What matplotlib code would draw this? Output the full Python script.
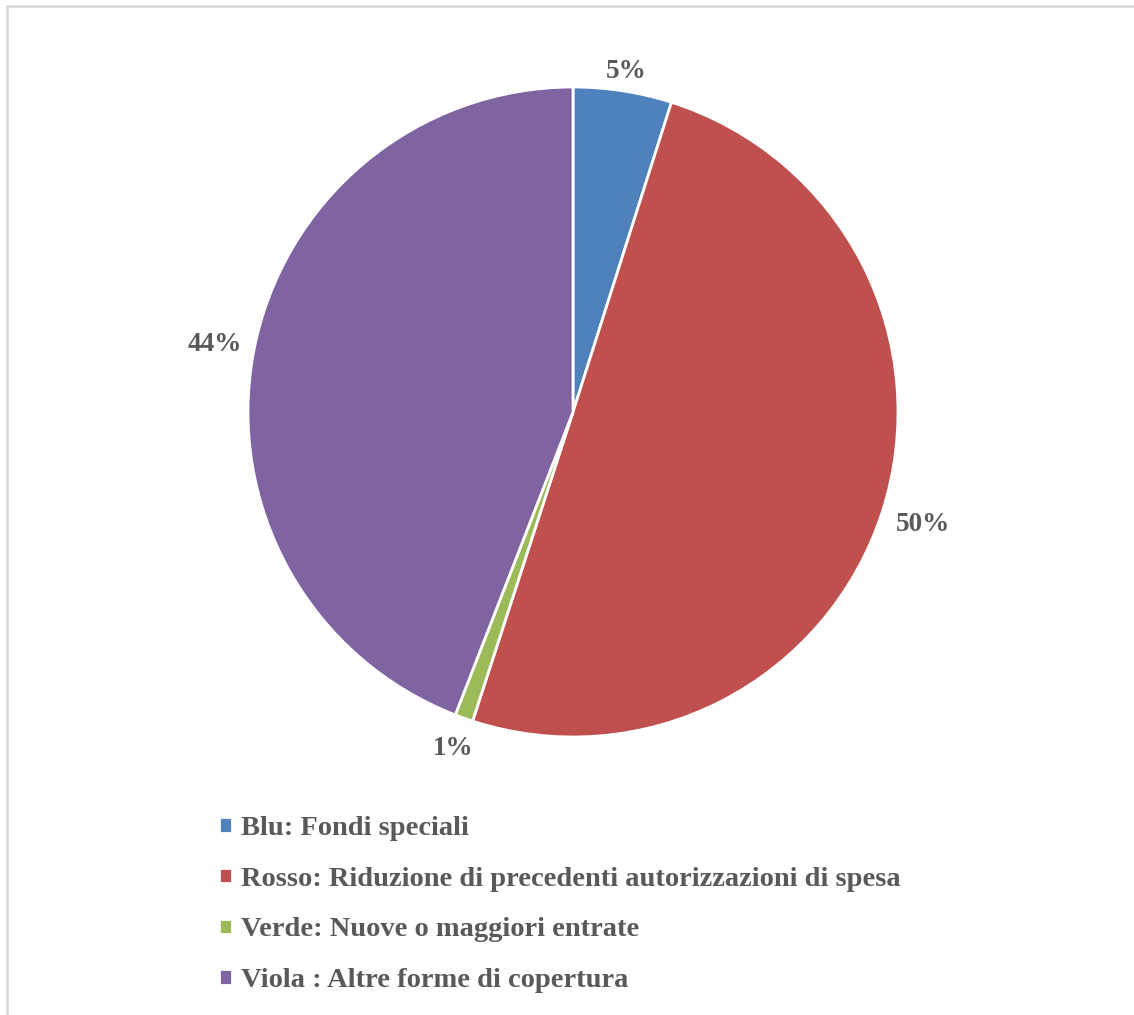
import matplotlib.pyplot as plt
from matplotlib.lines import Line2D

labels = ['Blu: Fondi speciali',
          'Rosso: Riduzione di precedenti autorizzazioni di spesa',
          'Verde: Nuove o maggiori entrate',
          'Viola : Altre forme di copertura']
values = [4.9, 50.1, 0.9, 44.1]
colors = ['#4F81BD', '#C0504D', '#9BBB59', '#8064A2']
# radial distance of each percent label (in pie radii)
label_dist = [1.06, 1.13, 1.10, 1.12]

txt_col = '#595959'
font = 'Liberation Serif'

fig = plt.figure(figsize=(11.34, 10.15), dpi=100)

# pie axes, centre at (573, 412) px, radius 325 px
W, H = 1134, 1015
cx, cy, r = 573, 412, 325
ax = fig.add_axes([(cx - r) / W, 1 - (cy + r) / H, 2 * r / W, 2 * r / H])
wedges, _, autotexts = ax.pie(values, colors=colors, startangle=90, counterclock=False,
                              autopct=lambda p: '%.0f%%' % p, pctdistance=1.0,
                              wedgeprops=dict(edgecolor='white', linewidth=2),
                              textprops=dict(color=txt_col, fontsize=19.5, fontweight='bold',
                                             family=font))
for t, d in zip(autotexts, label_dist):
    x, y = t.get_position()
    t.set_position((x * d, y * d))
ax.set_xlim(-1, 1)
ax.set_ylim(-1, 1)
ax.set_aspect('equal')
ax.axis('off')

leg = fig.legend(wedges, labels, loc='upper left',
                 bbox_to_anchor=(205 / W, 1 - 802 / H), frameon=False,
                 handlelength=0.45, handleheight=0.45, handletextpad=0.3,
                 labelspacing=0.9, borderpad=0,
                 prop=dict(family=font, size=20.5, weight='bold'))
for t in leg.get_texts():
    t.set_color(txt_col)

# light grey frame on the left and top
fig.add_artist(Line2D([7 / W, 7 / W], [0, 1 - 6 / H], color='#d9d9d9', lw=2, transform=fig.transFigure))
fig.add_artist(Line2D([7 / W, 1], [1 - 6 / H, 1 - 6 / H], color='#d9d9d9', lw=2, transform=fig.transFigure))

fig.savefig('out.png', dpi=100)
